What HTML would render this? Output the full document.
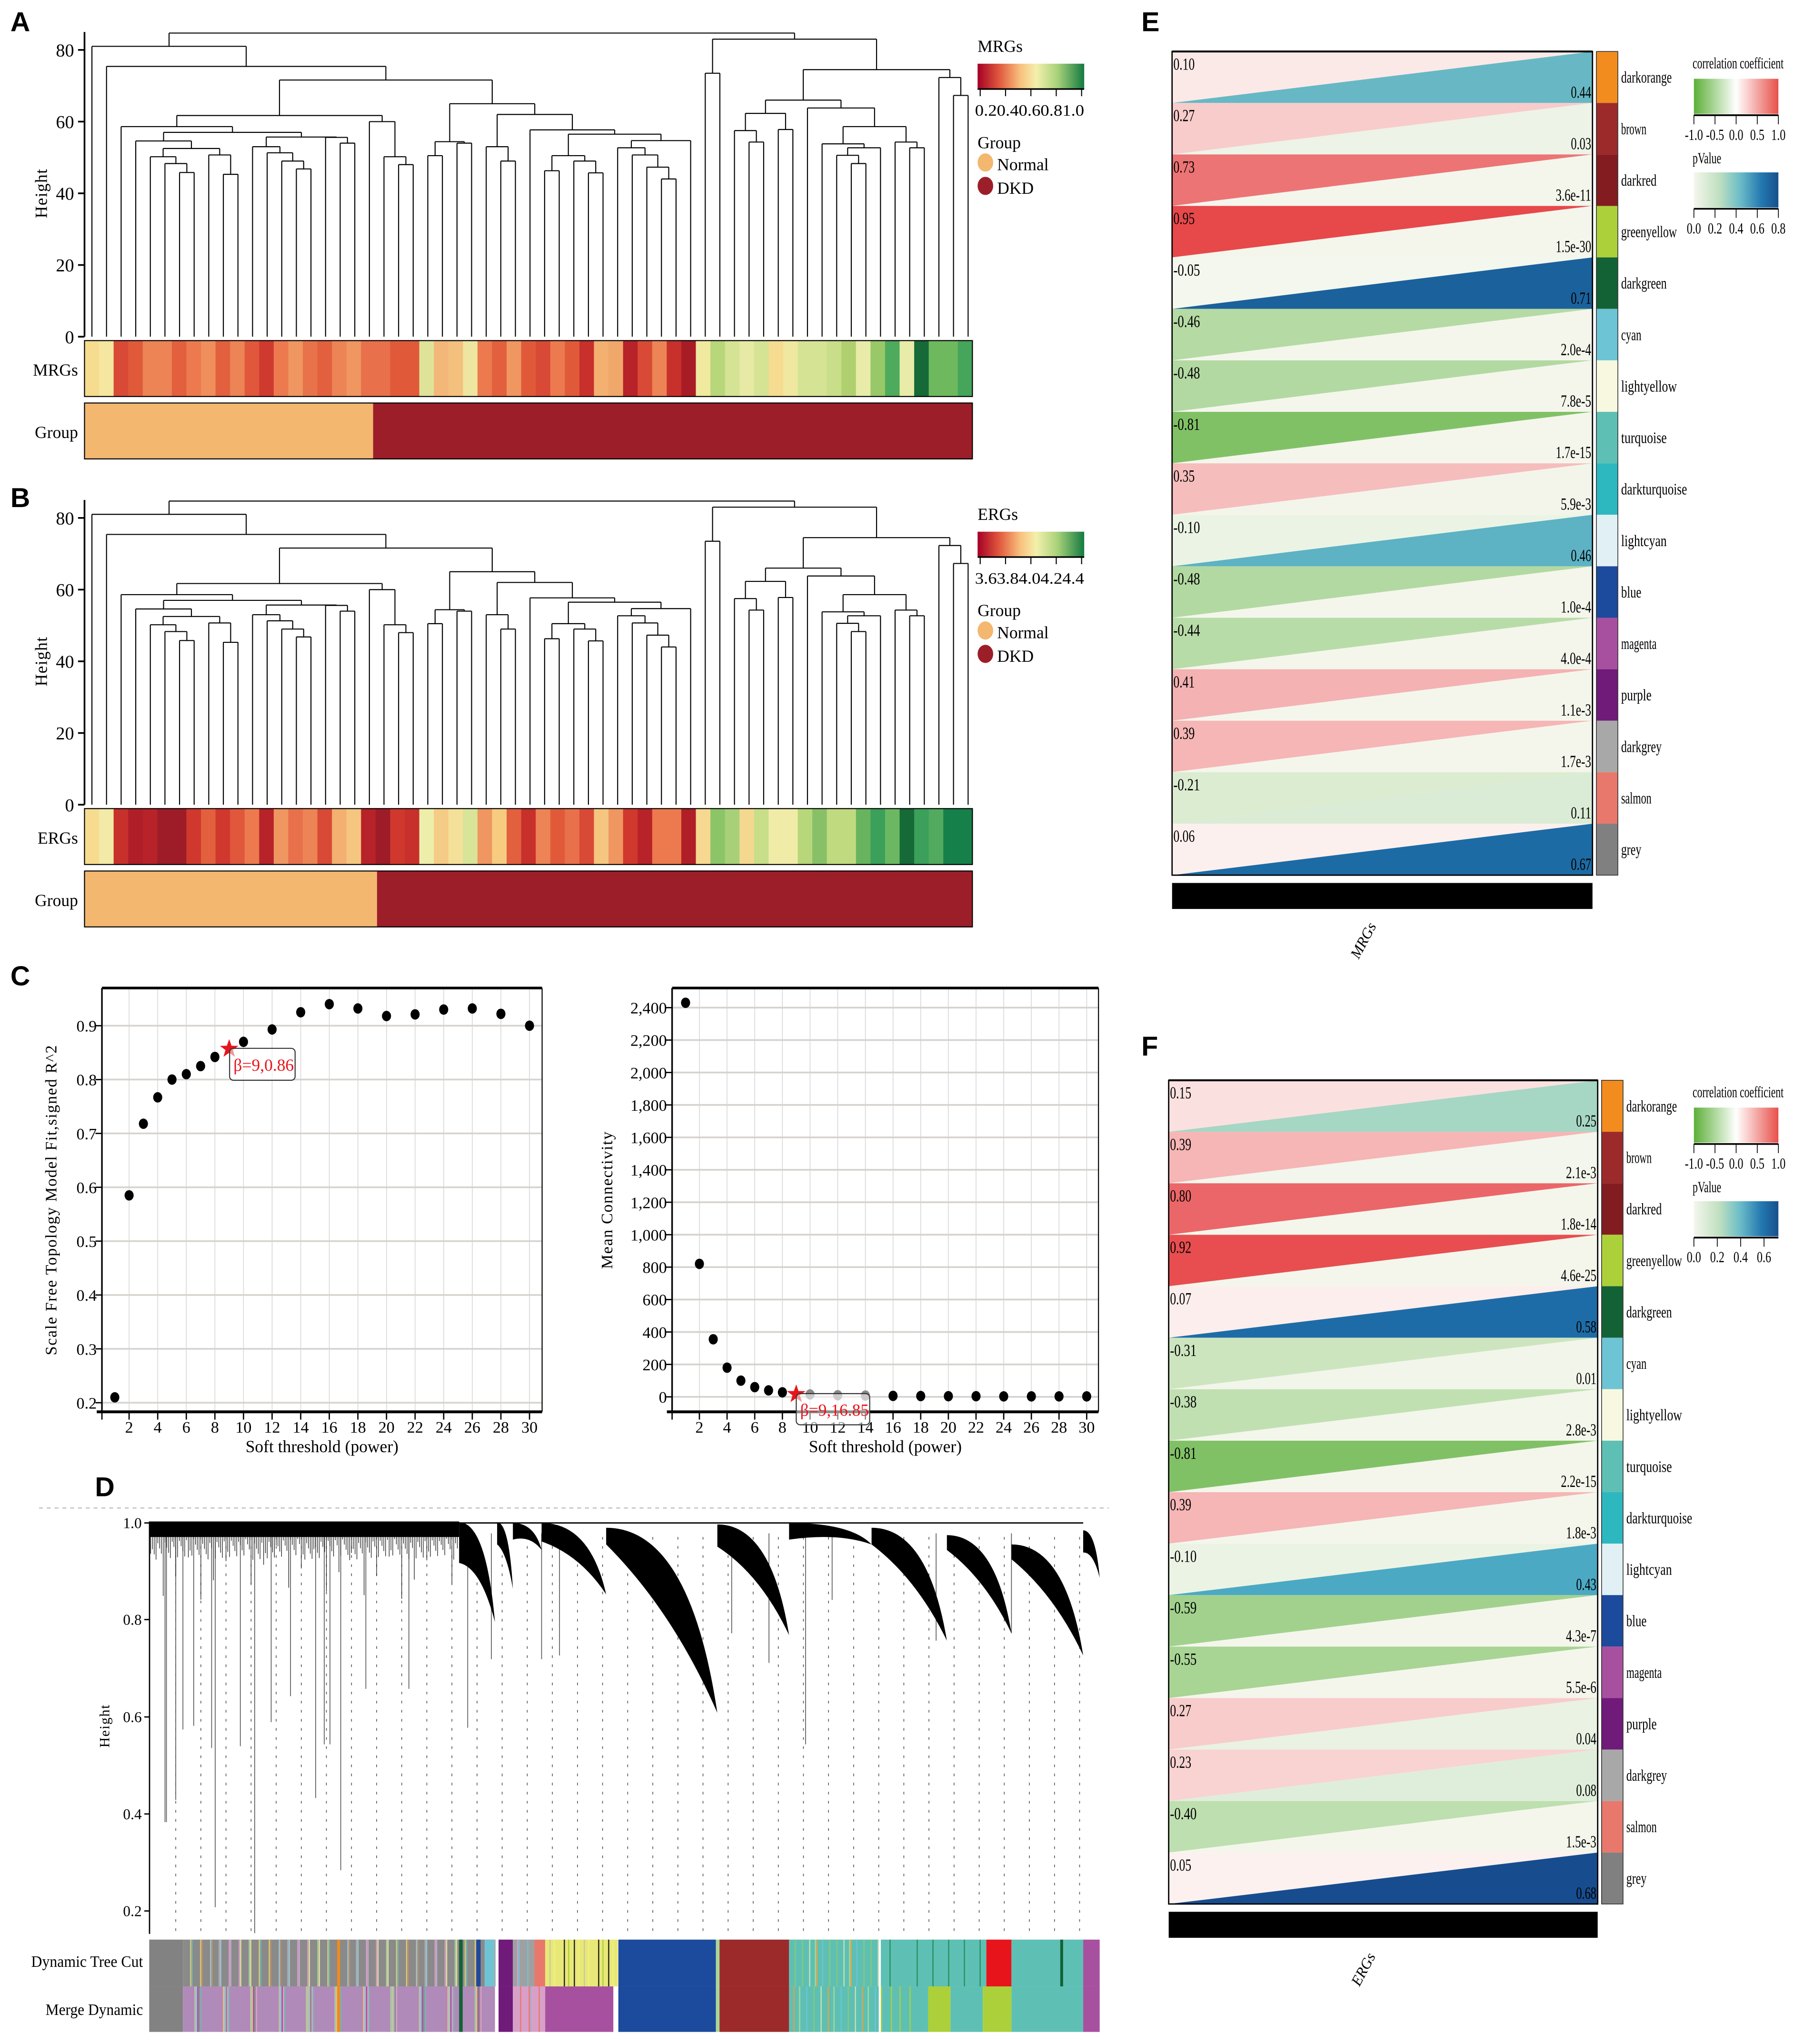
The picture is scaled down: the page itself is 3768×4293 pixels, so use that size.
<!DOCTYPE html>
<html><head><meta charset="utf-8"><style>
html,body{margin:0;padding:0;background:#fff;}
svg{display:block;}
text{font-family:"Liberation Serif",serif;}
</style></head>
<body>
<svg id="fig" xmlns="http://www.w3.org/2000/svg" width="3768" height="4293" viewBox="0 0 1380 1572.3">
<defs>
<linearGradient id="gMRG" x1="0" x2="1" y1="0" y2="0">
<stop offset="0" stop-color="#a50026"/><stop offset="0.2" stop-color="#e0573c"/><stop offset="0.4" stop-color="#f9c07e"/><stop offset="0.55" stop-color="#f4f0ac"/><stop offset="0.75" stop-color="#a8d27a"/><stop offset="1" stop-color="#137a40"/></linearGradient>
<linearGradient id="gCor" x1="0" x2="1" y1="0" y2="0">
<stop offset="0" stop-color="#5cb038"/><stop offset="0.5" stop-color="#ffffff"/><stop offset="1" stop-color="#e8504a"/></linearGradient>
<linearGradient id="gP" x1="0" x2="1" y1="0" y2="0">
<stop offset="0" stop-color="#f4f6ec"/><stop offset="0.3" stop-color="#c0e0c0"/><stop offset="0.55" stop-color="#6abcc8"/><stop offset="0.8" stop-color="#2478b0"/><stop offset="1" stop-color="#17508c"/></linearGradient>
</defs>
</svg>
<script>
// ---------------- data ----------------
const treeA = [84.7,
  [81, 0, [75.4, 0, [71.6,
    [61.7,
      [58.6, 0, [57,
        [54.6, 0, [52.5, [50.2, 0, [48.3, 0, [45.8, 0, 0]]], [50.7, 0, [45.3, 0, 0]]]],
        [55.7, [53, 0, [51.3, 0, [49, 0, [46.8, 0, 0]]]], [55.6, 0, [54, 0, 0]]]]],
      [60, 0, [50.2, 0, [48, 0, 0]]]],
    [65,
      [54.4, [50.5, 0, 0], [54, 0, 0]],
      [62, [53, 0, [49, 0, 0]], [57.7, 0, [56.5, [50.5, [46.3, 0, 0], [49, 0, [45.7, 0, 0]]], [54.7, [52.7, 0, [50.7, 0, [47.3, 0, [44, 0, 0]]]], 0]]]]]]]],
  [83, [73.5, 0, 0], [74.5,
    [66, [62.3, [57.5, 0, [54.3, 0, 0]], [57.8, 0, 0]],
         [63.8, 0, [58.6, [53.8, 0, [52.7, [50.6, 0, [48.3, 0, 0]], 0]], [54.3, 0, [52.7, 0, 0]]]]],
    [72.3, 0, [67.3, 0, 0]]]]];
const mrgColors = ["#f6dc8f","#f5e6a0","#d84a35","#e05a3a","#ec8455","#ec8455","#e2603e","#ec7a4e","#f08f5c","#e2603e","#ec8455","#e0573c","#cf3a2f","#ec7a4e","#f09660","#e8734a","#e2603e","#ec8455","#f09660","#e8704b","#e8704b","#e05a3a","#e05a3a","#dfe39a","#f3b779","#f3c07e","#eee6a0","#ec7a4e","#e2603e","#f09660","#e05a3a","#d84a35","#ec7a4e","#e05a3a","#c8302c","#f3b070","#f0a76a","#b82229","#d84a35","#ec8455","#c8302c","#a81d25","#f0eaa0","#b8d67a","#d5e394","#e6eaa4","#d5e394","#f5dc90","#f0e8a0","#d5e394","#d5e394","#c8de88","#b0d070","#e8eca8","#98c868","#4eaa5c","#e8eca8","#156a38","#6eb95e","#6eb95e","#45a55a"];
const ergColors = ["#f7dc90","#f2eaa6","#c8302c","#b01f27","#b82229","#9e1c27","#9e1c27","#d0382e","#e2603e","#d0382e","#e0573c","#ec7a4e","#b82229","#f09660","#e8704b","#ec8455","#d84a35","#f3b070","#f5c680","#b82229","#9e1c27","#d0382e","#c8302c","#eeeeab","#f5cc85","#f5e09a","#d8e498","#f09660","#f7cc80","#e2603e","#c8302c","#ec8455","#e05a3a","#e8704b","#d84a35","#f5c680","#f09660","#d0382e","#b82229","#ec7a4e","#ec7a4e","#b01f27","#f7d890","#8cc468","#a8d078","#f5d890","#c8de88","#f0eca8","#f0eca8","#b8d67a","#88c068","#c0da80","#c0da80","#68b45e","#3aa05a","#6cb862","#156a38","#3aa05a","#52aa5e","#15804a","#15804a"];
const powers = [1,2,3,4,5,6,7,8,9,10,12,14,16,18,20,22,24,26,28,30];
const r2Values = [0.21,0.585,0.718,0.767,0.80,0.81,0.825,0.842,0.857,0.87,0.893,0.925,0.94,0.932,0.918,0.921,0.93,0.932,0.922,0.90];
const kValues = [2430,820,355,180,100,60,40,28,16.85,15,10,8,6,5,4,4,3,3,3,3];
const r2Ticks = [0.2,0.3,0.4,0.5,0.6,0.7,0.8,0.9];
const kTicks = [0,200,400,600,800,1000,1200,1400,1600,1800,2000,2200,2400];
const xTicks = [2,4,6,8,10,12,14,16,18,20,22,24,26,28,30];
const modules = ["darkorange","brown","darkred","greenyellow","darkgreen","cyan","lightyellow","turquoise","darkturquoise","lightcyan","blue","magenta","purple","darkgrey","salmon","grey"];
const moduleColors = ["#f28c1e","#9c2a2a","#821c20","#acd03a","#136235","#6cc4d4","#f8f8e0","#5ec0b4","#2db8c0","#e0f0f4","#1c4a9c","#a850a0","#701a7a","#a8a8a8","#e8786c","#808080"];
const corrE = [0.10,0.27,0.73,0.95,-0.05,-0.46,-0.48,-0.81,0.35,-0.10,-0.48,-0.44,0.41,0.39,-0.21,0.06];
const pE = ["0.44","0.03","3.6e-11","1.5e-30","0.71","2.0e-4","7.8e-5","1.7e-15","5.9e-3","0.46","1.0e-4","4.0e-4","1.1e-3","1.7e-3","0.11","0.67"];
const corrF = [0.15,0.39,0.80,0.92,0.07,-0.31,-0.38,-0.81,0.39,-0.10,-0.59,-0.55,0.27,0.23,-0.40,0.05];
const pF = ["0.25","2.1e-3","1.8e-14","4.6e-25","0.58","0.01","2.8e-3","2.2e-15","1.8e-3","0.43","4.3e-7","5.5e-6","0.04","0.08","1.5e-3","0.68"];

// ---------------- helpers ----------------
const NS='http://www.w3.org/2000/svg';
const svg=document.getElementById('fig');
function mk(tag, at, parent){const e=document.createElementNS(NS,tag);for(const k in at)e.setAttribute(k,at[k]);(parent||svg).appendChild(e);return e;}
function tx(str, at, parent){const e=mk('text',at,parent);e.textContent=str;return e;}
function grp(name){const g=mk('g',{});return g;}
function hex(c){return [parseInt(c.slice(1,3),16),parseInt(c.slice(3,5),16),parseInt(c.slice(5,7),16)];}
function lerpStops(stops,t){t=Math.max(0,Math.min(1,t));for(let i=1;i<stops.length;i++){if(t<=stops[i][0]){const a=stops[i-1],b=stops[i];const u=(t-a[0])/(b[0]-a[0]);const ca=hex(a[1]),cb=hex(b[1]);return 'rgb('+ca.map((v,k)=>Math.round(v+(cb[k]-v)*u)).join(',')+')';}}return stops[stops.length-1][1];}
function corColor(v){return v>=0?lerpStops([[0,'#fdf8f6'],[1,'#e63e40']],Math.pow(v,1.1)):lerpStops([[0,'#fafbf6'],[1,'#64b444']],-v);}
function pColor(v,max){return lerpStops([[0,'#f4f6ec'],[0.25,'#c6e4c4'],[0.5,'#7cc4c4'],[0.65,'#3da0c4'],[0.8,'#1f72ac'],[0.9,'#1a5e9a'],[1,'#16468a']],v/max);}

// panel letters
[['A',8,24],['B',8,390],['C',8,758],['D',73,1151],['E',878,24],['F',878,812]].forEach(l=>{
  const t=tx(l[0],{x:l[1],y:l[2],'font-size':21,'font-weight':'bold',style:'font-family:"Liberation Sans",sans-serif'});
  
  
});

// ---------------- panels A & B ----------------
function countLeaves(n){return n===0?1:countLeaves(n[1])+countLeaves(n[2]);}
function dendroPanel(key, off, colors, strip, legendTicks){
  const g=grp('panel-'+key);
  const yBase=259+off, sc=2.7575, x0=70.7, x1=744.7;
  const yOf=h=>yBase-h*sc;
  const ax=mk('line',{x1:65,x2:65,y1:yOf(0),y2:yOf(85),stroke:'#000','stroke-width':1.3},g);
  
  [0,20,40,60,80].forEach(v=>{
    mk('line',{x1:60,x2:65,y1:yOf(v),y2:yOf(v),stroke:'#000','stroke-width':1.3},g);
    const t=tx(String(v),{x:57,y:yOf(v)+5,'font-size':14,'text-anchor':'end'},g);
    
  });
  const yl=tx('Height',{x:0,y:0,'font-size':13,'text-anchor':'middle',transform:`translate(36,${yOf(40)}) rotate(-90)`,'letter-spacing':'0.5'},g);
  
  const n=countLeaves(treeA); let idx=0; const step=(x1-x0)/(n-1);
  const tg=mk('g',{stroke:'#000','stroke-width':0.8,fill:'none'},g);
  
  function rec(node){
    if(node===0){const x=x0+step*(idx++);return {x:x,h:0};}
    const a=rec(node[1]), b=rec(node[2]); const y=yOf(node[0]);
    mk('line',{x1:a.x,x2:a.x,y1:yOf(a.h),y2:y},tg);
    mk('line',{x1:b.x,x2:b.x,y1:yOf(b.h),y2:y},tg);
    mk('line',{x1:a.x,x2:b.x,y1:y,y2:y},tg);
    return {x:(a.x+b.x)/2,h:node[0]};
  }
  rec(treeA);
  const sg=mk('g',{},g); 
  const hx0=65,hx1=748,cw=(hx1-hx0)/colors.length;
  colors.forEach((c,i)=>{const r=mk('rect',{x:hx0+i*cw,y:262+off,width:cw+0.4,height:43,fill:c},sg);
    });
  mk('rect',{x:hx0,y:262+off,width:hx1-hx0,height:43,fill:'none',stroke:'#000','stroke-width':0.8},g);
  tx(strip,{x:60,y:289+off,'font-size':13,'text-anchor':'end'},g);
  const split=65+ (off?225:222);
  const gn=mk('rect',{x:65,y:310+off,width:split-65,height:43,fill:'#f3b76f'},g);
  
  const gd=mk('rect',{x:split,y:310+off,width:748-split,height:43,fill:'#9c1e28'},g);
  
  mk('rect',{x:65,y:310+off,width:683,height:43,fill:'none',stroke:'#000','stroke-width':0.8},g);
  tx('Group',{x:60,y:337+off,'font-size':13,'text-anchor':'end'},g);
  const lg=mk('g',{},g); 
  tx(strip,{x:752,y:40+off,'font-size':13},lg);
  mk('rect',{x:752,y:49+off,width:82,height:19,fill:'url(#gMRG)'},lg);
  mk('line',{x1:752,x2:834,y1:68.5+off,y2:68.5+off,stroke:'#000','stroke-width':1.2},lg);
  for(let i=0;i<5;i++){const x=754+i*19.5;mk('line',{x1:x,x2:x,y1:68+off,y2:74+off,stroke:'#000','stroke-width':0.8},lg);}
  tx(legendTicks,{x:750,y:89+off,'font-size':12.5,textLength:84,lengthAdjust:'spacingAndGlyphs'},lg);
  tx('Group',{x:752,y:114+off,'font-size':13},lg);
  mk('ellipse',{cx:758,cy:125+off,rx:6,ry:7,fill:'#f3b76f'},lg);
  tx('Normal',{x:767,y:131+off,'font-size':13},lg);
  mk('ellipse',{cx:758,cy:143+off,rx:6,ry:7,fill:'#9c1e28'},lg);
  tx('DKD',{x:767,y:149+off,'font-size':13},lg);
}
dendroPanel('a',0,mrgColors,'MRGs','0.20.40.60.81.0');
dendroPanel('b',360,ergColors,'ERGs','3.63.84.04.24.4');

// ---------------- panel C ----------------
function scatterPanel(key, L, R, T, B, xOf, yOf, yTicks, fmt, vals, ylab, labOff, annot, annotBox, greyIdx){
  const g=grp('panel-c-'+key);
  xTicks.forEach(p=>mk('line',{x1:xOf(p),x2:xOf(p),y1:T,y2:B,stroke:'#d8d8d8','stroke-width':0.6},g));
  yTicks.forEach(v=>{
    mk('line',{x1:L,x2:R,y1:yOf(v),y2:yOf(v),stroke:'#d6d2ce','stroke-width':1.3},g);
    mk('line',{x1:L-5,x2:L,y1:yOf(v),y2:yOf(v),stroke:'#000','stroke-width':1},g);
    const t=tx(fmt(v),{x:L-4,y:yOf(v)+4.5,'font-size':12.5,'text-anchor':'end'},g);
    
  });
  mk('line',{x1:L,x2:R,y1:T,y2:T,stroke:'#000','stroke-width':2},g);
  mk('line',{x1:L-4,x2:R,y1:B,y2:B,stroke:'#000','stroke-width':2.2},g);
  mk('line',{x1:L,x2:L,y1:T,y2:B,stroke:'#000','stroke-width':1.2},g);
  mk('line',{x1:R,x2:R,y1:T,y2:B,stroke:'#000','stroke-width':0.8},g);
  mk('line',{x1:L,x2:L,y1:B,y2:B+6,stroke:'#000','stroke-width':1},g);
  xTicks.forEach(p=>{
    mk('line',{x1:xOf(p),x2:xOf(p),y1:B,y2:B+6,stroke:'#000','stroke-width':1},g);
    const t=tx(String(p),{x:xOf(p),y:B+16,'font-size':12.5,'text-anchor':'middle'},g);
    
  });
  tx('Soft threshold (power)',{x:(L+R)/2,y:B+31,'font-size':13,'text-anchor':'middle'},g);
  const yt=tx(ylab,{x:0,y:0,'font-size':12.5,'text-anchor':'middle','letter-spacing':'0.6',transform:`translate(${L-labOff},${(T+B)/2}) rotate(-90)`},g);
  
  powers.forEach((p,i)=>{
    if(p===9) return;
    const c=mk('ellipse',{cx:xOf(p),cy:yOf(vals[i]),rx:3.5,ry:4,fill:greyIdx.includes(p)?'#8a8a8a':'#000'},g);
    
  });
  const i9=powers.indexOf(9); const sx=xOf(9), sy=yOf(vals[i9]);
  let pts=[];for(let k=0;k<10;k++){const r=k%2?3:7.5;const a=-Math.PI/2+k*Math.PI/5;pts.push((sx+r*Math.cos(a)).toFixed(1)+','+(sy+r*Math.sin(a)).toFixed(1));}
  mk('polygon',{points:pts.join(' '),fill:'#e8141c'},g);
  const bx=mk('rect',{x:annotBox[0],y:annotBox[1],width:annotBox[2],height:annotBox[3],rx:3,fill:'#fff','fill-opacity':0.55,stroke:'#333','stroke-width':0.8},g);
  
  tx(annot,{x:annotBox[0]+3,y:annotBox[1]+annotBox[3]/2+5,'font-size':13,fill:'#e8141c'},g);
}
scatterPanel('r2',78.4,417,760,1086,p=>99.3+(p-2)*11.0,v=>789+(0.9-v)*414.3,r2Ticks,v=>v.toFixed(1),r2Values,
  'Scale Free Topology Model Fit,signed R^2',35,'β=9,0.86',[176.6,806.4,50.4,24.6],[]);
scatterPanel('k',517,845,760,1086,p=>538+(p-2)*10.64,v=>1074.5-v*0.12475,kTicks,v=>v.toLocaleString('en-US'),kValues,
  'Mean Connectivity',46,'β=9,16.85',[612.5,1072,56.5,24],[10,12,14]);

// ---------------- panel D ----------------
(function(){
  const g=grp('panel-d');
  const dx=z=>z*0.5518, dy=z=>1128.2+z*0.2848;
  mk('line',{x1:30,x2:853,y1:1160,y2:1160,stroke:'#bbb','stroke-width':0.8,'stroke-dasharray':'3,3'},g);
  for(let z=245;z<=1510;z+=35){mk('line',{x1:dx(z),x2:dx(z),y1:dy(190),y2:dy(1260),stroke:'#555','stroke-width':0.6,'stroke-dasharray':'2,5'},g);}
  mk('line',{x1:115,x2:115,y1:dy(148),y2:dy(1262),stroke:'#000','stroke-width':1},g);
  [[1.0,152],[0.8,413],[0.6,676],[0.4,938],[0.2,1200]].forEach(t=>{
    mk('line',{x1:111,x2:115,y1:dy(t[1]),y2:dy(t[1]),stroke:'#000','stroke-width':1},g);
    tx(t[0].toFixed(1),{x:109,y:dy(t[1])+4,'font-size':11.5,'text-anchor':'end'},g);
  });
  tx('Height',{x:0,y:0,'font-size':11,'text-anchor':'middle','letter-spacing':'0.6',transform:`translate(84,${dy(700)}) rotate(-90)`},g);
  const tg=mk('g',{},g); 
  const hang=[[230,960],[245,900],[255,710],[270,700],[295,760],[300,1190],[335,755],[355,1260],[378,690],[405,620],[440,895],[460,750],[475,1090],[510,600],[570,600],[652,705],[685,520],[755,520],[780,510],[1020,450],[1072,530],[1123,750],[1160,360],[1305,470],[1410,450],[232,960],[452,750]];
  hang.forEach(h=>mk('line',{x1:dx(h[0]),x2:dx(h[0]),y1:dy(180),y2:dy(h[1]),stroke:'#555','stroke-width':0.6},tg));
  for(let z=210;z<640;z+=2.5){const len=195+((Math.round(z*10)*7919)%83)*(((Math.round(z*4)*31)%7)===0?2.0:0.7);
    mk('line',{x1:dx(z),x2:dx(z),y1:dy(180),y2:dy(len),stroke:'#111','stroke-width':0.45},tg);}
  mk('line',{x1:dx(208),x2:dx(1510),y1:dy(152),y2:dy(152),stroke:'#000','stroke-width':1},tg);
  mk('rect',{x:dx(208),y:dy(148),width:dx(640)-dx(208),height:dy(190)-dy(148),fill:'#000'},tg);
  const curt=[[640,690,150,420,110],[693,715,150,330,60],[715,755,152,225,45],[755,845,152,345,50],[845,1000,165,665,45],[1000,1100,156,455,60],[1100,1215,152,210,45],[1215,1320,165,470,45],[1320,1410,185,450,40],[1410,1510,210,510,40],[1510,1533,172,300,60]];
  curt.forEach(c=>{const [z0,z1,t,tip,th]=c;const w=z1-z0;
    const d=`M${dx(z0)},${dy(t)} Q${dx(z0+0.75*w)},${dy(t)} ${dx(z1)},${dy(tip)} Q${dx(z0+0.6*w)},${dy(t+0.45*(tip-t))} ${dx(z0)},${dy(t+th)} Z`;
    const p=mk('path',{d:d,fill:'#000'},tg);
    });
  function stripes(z0,z1,y,h,pal,seed,parent){
    const x0=dx(z0),x1=dx(z1);
    mk('rect',{x:x0,y:y,width:x1-x0,height:h,fill:pal[0]},parent);
    for(let x=x0,i=0;x<x1;x+=1.1,i++){const k=((i*2654435+seed*97)>>>3)%(pal.length*3);
      if(k<pal.length) mk('rect',{x:x,y:y,width:0.9,height:h,fill:pal[k]},parent);}
  }
  const mix1=['#8a8a8a','#b0b0b0','#d8a0c8','#a8d0a0','#d8cc78','#9cc8d8','#c8a8d8','#e6e0a0','#70b8b0','#c09060'];
  const mix2=['#b08ab8','#c080c0','#a8d0a0','#d8cc78','#9cc8d8','#a850a0','#8a8a8a','#e0a0c8','#70b8b0'];
  const mixG=['#5ec0b4','#a8d898','#6cc4d4','#88c878','#c8e0b0','#e8a040','#5ec0b4'];
  const yA=1492,hA=36,yB=1528,hB=35;
  const s1=mk('g',{},g); 
  const s2=mk('g',{},g); 
  const seg=(z0,z1,c,y,h,p)=>mk('rect',{x:dx(z0),y:y,width:dx(z1)-dx(z0),height:h,fill:c},p);
  seg(208,255,'#828282',yA,hA,s1); stripes(255,690,yA,hA,mix1,1,s1);
  seg(470,474,'#f08a1e',yA,hA,s1); seg(640,645,'#136235',yA,hA,s1); seg(664,670,'#1c4a9c',yA,hA,s1); seg(676,688,'#6cc4d4',yA,hA,s1);
  seg(695,715,'#701a7a',yA,hA,s1); stripes(715,745,yA,hA,['#a0a0a0','#d8a0c8','#6cc4d4'],2,s1); seg(745,760,'#e8786c',yA,hA,s1);
  stripes(760,860,yA,hA,['#e8e878','#acd03a','#f0f080','#222','#c8c8a0'],3,s1);
  seg(862,998,'#1c4a9c',yA,hA,s1); seg(998,1003,'#a8d898',yA,hA,s1); seg(1003,1100,'#9c2a2a',yA,hA,s1);
  stripes(1100,1225,yA,hA,mixG,4,s1); stripes(1228,1375,yA,hA,['#5ec0b4','#5ec0b4','#2a9060','#5ec0b4'],5,s1);
  seg(1375,1410,'#e8141c',yA,hA,s1); seg(1410,1510,'#5ec0b4',yA,hA,s1); seg(1478,1482,'#136235',yA,hA,s1); seg(1510,1533,'#a850a0',yA,hA,s1);
  seg(208,255,'#828282',yB,hB,s2); stripes(255,690,yB,hB,mix2,6,s2); seg(470,474,'#f08a1e',yB,hB,s2); seg(640,645,'#136235',yB,hB,s2);
  seg(695,715,'#701a7a',yB,hB,s2); stripes(715,760,yB,hB,['#d8a0c8','#e8786c','#a8a8c8'],7,s2); seg(760,855,'#a850a0',yB,hB,s2);
  seg(862,998,'#1c4a9c',yB,hB,s2); seg(998,1003,'#a8d898',yB,hB,s2); seg(1003,1100,'#9c2a2a',yB,hB,s2);
  stripes(1100,1225,yB,hB,mixG,8,s2); stripes(1228,1295,yB,hB,['#5ec0b4','#acd03a','#5ec0b4'],9,s2);
  seg(1295,1325,'#acd03a',yB,hB,s2); seg(1325,1370,'#5ec0b4',yB,hB,s2); seg(1370,1410,'#acd03a',yB,hB,s2);
  seg(1410,1510,'#5ec0b4',yB,hB,s2); seg(1510,1533,'#a850a0',yB,hB,s2);
  tx('Dynamic Tree Cut',{x:110,y:1513,'font-size':12.5,'text-anchor':'end',textLength:86,lengthAdjust:'spacingAndGlyphs'},g);
  tx('Merge Dynamic',{x:110,y:1550,'font-size':12.5,'text-anchor':'end',textLength:75,lengthAdjust:'spacingAndGlyphs'},g);
})();

// ---------------- panels E & F ----------------
function corrPanel(key, top, L, R, corr, pv, pmax, pTicks, title){
  const g=grp('panel-'+key);
  const rh=39.6;
  corr.forEach((c,i)=>{
    const y0=top+i*rh, y1=y0+rh;
    const a=mk('polygon',{points:`${L},${y0} ${R},${y0} ${L},${y1}`,fill:corColor(c)},g);
    
    const pval=parseFloat(pv[i]);
    const b=mk('polygon',{points:`${L},${y1} ${R},${y0} ${R},${y1}`,fill:pColor(pval,pmax)},g);
    
    const s=c.toFixed(2);
    const t1=tx(s,{x:L+1,y:y0+14,'font-size':13,textLength:s.length*4.1,lengthAdjust:'spacingAndGlyphs'},g);
    
    const t2=tx(pv[i],{x:R-1,y:y1-4,'font-size':13,'text-anchor':'end',textLength:pv[i].length*3.9,lengthAdjust:'spacingAndGlyphs'},g);
    
    const m=mk('rect',{x:R+3,y:y0,width:16.5,height:rh,fill:moduleColors[i]},g);
    
    const ml=tx(modules[i],{x:R+22,y:y0+24,'font-size':12.5,textLength:modules[i].length*3.9,lengthAdjust:'spacingAndGlyphs'},g);
    
  });
  mk('rect',{x:L,y:top,width:R-L,height:rh*16,fill:'none',stroke:'#000','stroke-width':1},g);
  mk('line',{x1:L,x2:R,y1:top,y2:top,stroke:'#000','stroke-width':1.5},g);
  mk('rect',{x:R+3,y:top,width:16.5,height:rh*16,fill:'none',stroke:'#333','stroke-width':0.6},g);
  const bb=mk('rect',{x:L,y:top+rh*16+6,width:R-L,height:20,fill:'#000'},g);
  
  tx(title,{x:0,y:0,'font-size':11.5,'font-style':'italic',transform:`translate(1052,${top+rh*16+52}) rotate(-62)`,'text-anchor':'middle'},g);
  const lg=mk('g',{},g); 
  const lx=1303, ly=top+13;
  tx('correlation coefficient',{x:lx-1,y:ly,'font-size':12,textLength:70,lengthAdjust:'spacingAndGlyphs'},lg);
  mk('rect',{x:lx,y:ly+8,width:65,height:27,fill:'url(#gCor)'},lg);
  mk('line',{x1:lx,x2:lx+65,y1:ly+36,y2:ly+36,stroke:'#000','stroke-width':1.3},lg);
  ['-1.0','-0.5','0.0','0.5','1.0'].forEach((s,k)=>{const x=lx+k*16.25;
    mk('line',{x1:x,x2:x,y1:ly+36,y2:ly+43,stroke:'#000','stroke-width':0.6},lg);
    tx(s,{x:x,y:ly+55,'font-size':12,'text-anchor':'middle',textLength:s.length>3?14:11,lengthAdjust:'spacingAndGlyphs'},lg);});
  tx('pValue',{x:lx-1,y:ly+73,'font-size':12,textLength:22,lengthAdjust:'spacingAndGlyphs'},lg);
  mk('rect',{x:lx,y:ly+80,width:65,height:27,fill:'url(#gP)'},lg);
  mk('line',{x1:lx,x2:lx+65,y1:ly+108,y2:ly+108,stroke:'#000','stroke-width':1.3},lg);
  pTicks.forEach((s,k)=>{const x=lx+k*(65/(pTicks.length-1)*(pTicks.length===4?0.83:1));
    mk('line',{x1:x,x2:x,y1:ly+108,y2:ly+115,stroke:'#000','stroke-width':0.6},lg);
    tx(s,{x:x,y:ly+127,'font-size':12,'text-anchor':'middle',textLength:11,lengthAdjust:'spacingAndGlyphs'},lg);});
}
corrPanel('e',39.6,901.6,1225,corrE,pE,0.8,['0.0','0.2','0.4','0.6','0.8'],'MRGs');
corrPanel('f',831,899,1229,corrF,pF,0.7,['0.0','0.2','0.4','0.6'],'ERGs');
</script>
</body></html>
